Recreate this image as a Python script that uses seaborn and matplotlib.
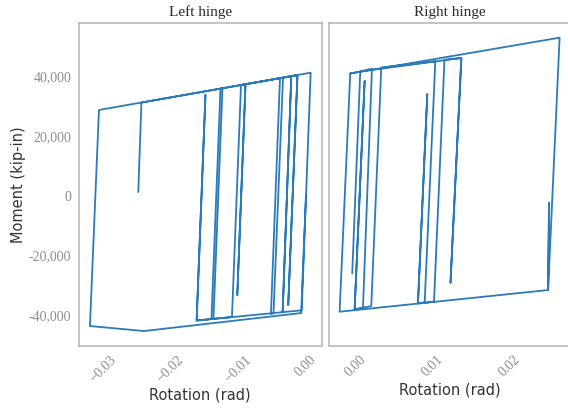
import matplotlib
matplotlib.use("Agg")
import matplotlib.pyplot as plt
from matplotlib.ticker import MultipleLocator, FuncFormatter
import seaborn as sns
import pandas as pd

# Hinge moment-rotation histories (rotation in rad, moment in kip-in)
left_rotation = [0.0001, -0.00061, -0.02396, -0.03199, -0.03065, 0.00080, -0.00053,
                 -0.01614, -0.01483, -0.01614, -0.01394, -0.01260, -0.01230, -0.01364,
                 -0.01089, -0.00955, -0.00888, -0.01010, -0.00888, -0.00376, -0.00510,
                 -0.00472, -0.00331, -0.00208, -0.00336, -0.00208, -0.00116, -0.00253,
                 -0.00116, -0.02434, -0.02481]
left_moment = [0, -39330, -45350, -43680, 28620, 41100, -38420,
               -41840, 33640, -41840, -41340, 35780, 35910, -41270,
               -40670, 36980, 37220, -33300, 37220, 39260, -39630,
               -39430, 39430, 39930, -39060, 39930, 40300, -36650,
               40300, 31090, 1170]

right_rotation = [-0.00048, 0.00056, 0.00208, 0.00091, -0.00017, 0.00113, -0.00017,
                  0.00199, 0.00329, 0.01030, 0.00892, 0.00805, 0.00926, 0.00805,
                  0.01013, 0.01149, 0.01368, 0.01227, 0.01368, 0.00056, -0.00074,
                  0.02643, 0.02494, 0.02506, 0.02494, -0.00212, -0.00074]
right_moment = [-26040, 41500, 42470, -37750, -38090, 38320, -38090,
                -36980, 42840, 44920, -35750, -36080, 33870, -36080,
                -35550, 45450, 46020, -29190, 46020, 41500, 40830,
                52820, -31630, -2410, -31630, -38890, 40830]

panel_titles = ["Left hinge", "Right hinge"]
y_ticks = [-40000, -20000, 0, 20000, 40000]

sns.set_theme(style="white")
plt.rcParams["font.family"] = ["DejaVu Sans"]

line_color = "#2b7bba"
spine_color = "#b4b4b4"
tick_color = "#8f8f8f"

fig = plt.figure(figsize=(5.68, 4.08), dpi=100)
W, H = 568.0, 408.0
ax_l = fig.add_axes([78.9 / W, 1 - 345.7 / H, 242.8 / W, 322.7 / H])
ax_r = fig.add_axes([328.6 / W, 1 - 345.7 / H, 242.0 / W, 322.7 / H], sharey=ax_l)

frames = [
    pd.DataFrame({"rotation": left_rotation, "moment": left_moment,
                  "step": range(len(left_rotation))}),
    pd.DataFrame({"rotation": right_rotation, "moment": right_moment,
                  "step": range(len(right_rotation))}),
]


def fmt_rot(v, _pos):
    s = f"{v:.2f}"
    if s == "-0.00":
        s = "0.00"
    return s.replace("-", "\u2212")


for ax, df, title in zip([ax_l, ax_r], frames, panel_titles):
    sns.lineplot(data=df, x="rotation", y="moment", sort=False, estimator=None,
                 color=line_color, linewidth=1.3, ax=ax)
    ax.set_title(title, fontfamily="Liberation Serif", fontsize=11,
                 color="#2b2b2b", pad=5)
    ax.xaxis.set_major_locator(MultipleLocator(0.01))
    ax.xaxis.set_major_formatter(FuncFormatter(fmt_rot))
    ax.set_yticks(y_ticks)
    for sp in ax.spines.values():
        sp.set_color(spine_color)
        sp.set_linewidth(1.1)
    ax.tick_params(axis="both", direction="inout", length=4, width=0.9,
                   color=spine_color, labelcolor=tick_color, labelsize=10)
    for lab in ax.get_xticklabels() + ax.get_yticklabels():
        lab.set_fontfamily("Liberation Serif")
    for lab in ax.get_xticklabels():
        lab.set_rotation(45)
        lab.set_ha("center")
        lab.set_va("top")
    ax.set_xlabel("Rotation (rad)", fontsize=10.5, color="#333333", labelpad=2)
    ax.set_ylabel("")
    ax.grid(False)

ax_l.yaxis.set_major_formatter(FuncFormatter(lambda v, _p: f"{v:,.0f}"))
ax_l.set_ylabel("Moment (kip-in)", fontsize=10.5, color="#333333", labelpad=2)
ax_r.tick_params(axis="y", labelleft=False)

fig.savefig("out.png", dpi=100, facecolor="white")
